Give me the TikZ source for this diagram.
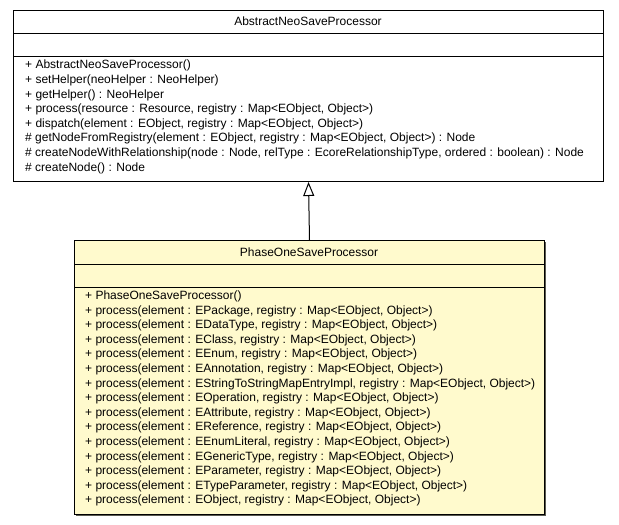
\documentclass[tikz,border=0pt]{standalone}
\usepackage{fontspec}
\setmainfont{Liberation Sans}
\usetikzlibrary{arrows.meta,positioning}

\definecolor{classfill}{RGB}{255,250,205}
\definecolor{shadowgray}{RGB}{90,90,80}

\begin{document}
\begin{tikzpicture}[x=1pt,y=-1pt,>={Triangle[open,length=14pt,width=11pt]},
    classbox/.style={draw,line width=1pt,anchor=north west,inner sep=0pt},
    classname/.style={font=\fontsize{12}{12}\selectfont,anchor=center,inner sep=0pt},
    members/.style={font=\fontsize{12}{14.6}\selectfont,align=left,anchor=north west,inner sep=0pt}]

                \useasboundingbox (0,0) rectangle (619,525);

                % base class
                \node[classbox,minimum width=590pt,minimum height=171pt] (abs) at (13,10) {};
                \draw[line width=1pt] (13,33) -- (603,33) (13,56) -- (603,56);
                \node[classname] (absname) at (308,21.5) {AbstractNeoSaveProcessor};
                \node[members] (absops) at (25,60) {+ AbstractNeoSaveProcessor()\\
                    + setHelper(neoHelper : NeoHelper)\\
                    + getHelper() : NeoHelper\\
                    + process(resource : Resource, registry : Map<EObject, Object>)\\
                    + dispatch(element : EObject, registry : Map<EObject, Object>)\\
                    \# getNodeFromRegistry(element : EObject, registry : Map<EObject, Object>) : Node\\
                    \# createNodeWithRelationship(node : Node, relType : EcoreRelationshipType, ordered : boolean) : Node\\
                    \# createNode() : Node};

                % subclass
                \fill[shadowgray] (76,242) rectangle (546,516);
                \node[classbox,fill=classfill,minimum width=470pt,minimum height=274pt] (phase) at (74,240) {};
                \draw[line width=1pt] (74,264) -- (544,264) (74,287) -- (544,287);
                \node[classname] (phasename) at (309,252) {PhaseOneSaveProcessor};
                \node[members] (phaseops) at (85,290.5) {+ PhaseOneSaveProcessor()\\
                    + process(element : EPackage, registry : Map<EObject, Object>)\\
                    + process(element : EDataType, registry : Map<EObject, Object>)\\
                    + process(element : EClass, registry : Map<EObject, Object>)\\
                    + process(element : EEnum, registry : Map<EObject, Object>)\\
                    + process(element : EAnnotation, registry : Map<EObject, Object>)\\
                    + process(element : EStringToStringMapEntryImpl, registry : Map<EObject, Object>)\\
                    + process(element : EOperation, registry : Map<EObject, Object>)\\
                    + process(element : EAttribute, registry : Map<EObject, Object>)\\
                    + process(element : EReference, registry : Map<EObject, Object>)\\
                    + process(element : EEnumLiteral, registry : Map<EObject, Object>)\\
                    + process(element : EGenericType, registry : Map<EObject, Object>)\\
                    + process(element : EParameter, registry : Map<EObject, Object>)\\
                    + process(element : ETypeParameter, registry : Map<EObject, Object>)\\
                    + process(element : EObject, registry : Map<EObject, Object>)};

                % generalization
                \draw[->,line width=1pt] (phase.north) -- (abs.south);

\end{tikzpicture}
\end{document}
